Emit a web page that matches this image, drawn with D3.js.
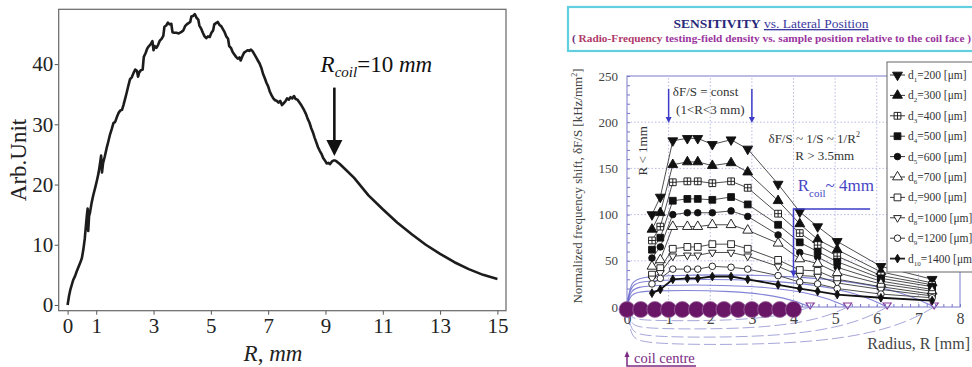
<!DOCTYPE html>
<html>
<head>
<meta charset="utf-8">
<script src="https://cdn.jsdelivr.net/npm/d3@7"></script>
<style>
  body { margin: 0; background: #fff; }
  svg, svg text, svg tspan { font-family: "Liberation Serif", "Times New Roman", serif !important; }
</style>
</head>
<body>
<svg id="chart" width="972" height="367"></svg>
<script>
// ---------- left panel data ----------
const leftR = [0, 0.05, 0.1, 0.15, 0.2, 0.26, 0.32, 0.38, 0.44, 0.5, 0.55, 0.6, 0.64, 0.68, 0.7, 0.72, 0.75, 0.78,
  0.84, 0.9, 0.96, 1.02, 1.08, 1.13, 1.17, 1.2, 1.24, 1.3, 1.36, 1.42, 1.48, 1.54, 1.6, 1.66, 1.72, 1.78, 1.84, 1.9,
  1.95, 2.0, 2.06, 2.12, 2.18, 2.24, 2.3, 2.36, 2.42, 2.46, 2.5, 2.56, 2.62, 2.66, 2.72, 2.78, 2.84, 2.9, 2.96, 3.0,
  3.04, 3.1, 3.16, 3.22, 3.28, 3.34, 3.38, 3.44, 3.5, 3.56, 3.62, 3.66, 3.72, 3.8, 3.88, 3.96, 4.04, 4.1, 4.16, 4.22,
  4.28, 4.32, 4.38, 4.44, 4.5, 4.56, 4.6, 4.66, 4.72, 4.78, 4.84, 4.9, 4.96, 5.02, 5.08, 5.12, 5.18, 5.24, 5.3, 5.36,
  5.42, 5.48, 5.54, 5.6, 5.64, 5.7, 5.76, 5.82, 5.88, 5.94, 6.0, 6.04, 6.1, 6.16, 6.22, 6.28, 6.34, 6.4, 6.46, 6.52,
  6.58, 6.64, 6.7, 6.76, 6.82, 6.88, 6.94, 7.0, 7.06, 7.12, 7.18, 7.24, 7.3, 7.36, 7.42, 7.48, 7.54, 7.6, 7.66, 7.72,
  7.78, 7.84, 7.9, 7.96, 8.02, 8.08, 8.14, 8.2, 8.26, 8.32, 8.38, 8.44, 8.5, 8.56, 8.62, 8.68, 8.74, 8.8, 8.86, 8.92,
  8.98, 9.04, 9.1, 9.16, 9.22, 9.28, 9.34, 9.4, 9.5, 9.7, 10.0, 10.5, 11.0, 11.5, 12.0, 12.5, 13.0, 13.5, 14.0, 14.5, 15.0];
const leftArb = [0, 1.5, 2.6, 3.4, 4.2, 4.8, 5.6, 6.3, 7.0, 7.8, 9.2, 11.0, 13.2, 15.2, 16.0, 12.3, 14.8, 15.3,
  17.0, 18.3, 19.4, 20.6, 21.9, 23.4, 24.8, 22.0, 23.6, 24.7, 26.0, 27.1, 28.3, 29.2, 30.2, 30.4, 31.2, 31.9, 32.3, 32.4,
  33.2, 34.1, 35.2, 36.4, 37.5, 37.8, 38.5, 39.1, 38.9, 37.9, 38.6, 39.0, 39.1, 41.2, 41.8, 42.6, 43.0, 43.3, 43.8, 42.3,
  43.0, 42.7, 43.2, 43.9, 44.2, 44.7, 46.2, 46.4, 46.9, 46.6, 46.7, 45.3, 45.2, 45.2, 45.1, 45.3, 45.6, 46.3, 46.6, 46.8,
  47.0, 47.9, 48.0, 48.3, 47.7, 47.4, 46.4, 45.9, 45.2, 44.6, 44.3, 44.6, 44.5, 45.2, 45.6, 46.6, 46.8, 47.0, 46.5, 46.3,
  45.8, 45.3, 44.6, 44.2, 43.0, 42.7, 42.0, 41.6, 41.2, 40.9, 41.1, 40.6, 41.3, 41.9, 42.1, 42.3, 42.2, 42.4, 42.1, 41.6,
  41.1, 40.6, 40.1, 39.4, 38.4, 37.7, 36.9, 36.3, 35.4, 34.8, 34.3, 34.0, 33.9, 33.6, 33.9, 33.2, 33.5, 33.8, 34.3, 34.1,
  34.5, 34.3, 34.7, 34.2, 34.1, 33.7, 33.3, 32.8, 32.3, 31.7, 30.9, 30.3, 29.4, 28.7, 27.8, 27.0, 26.2, 25.6, 25.1, 24.4,
  24.0, 23.5, 23.6, 23.4, 23.8, 24.0, 24.0, 23.8, 23.4, 22.5, 21.1, 18.2, 15.9, 13.7, 11.8, 10.0, 8.5, 7.1, 5.95, 5.0, 4.3];
const leftXTicks = [0, 1, 3, 5, 7, 9, 11, 13, 15];
const leftYTicks = [0, 10, 20, 30, 40];
const coilArrow = { r: 9.31, from: 36.1, to: 24.75 };
const coilNote = { r: 8.83, y: 38.75 };

// ---------- right panel data ----------
const radius = [0.6, 0.8, 1.1, 1.45, 1.7, 2.05, 2.5, 2.9, 3.63, 4.15, 4.58, 5.05, 6.1, 7.33];
const d1 = [100, 119, 180, 182.5, 182.5, 176, 181, 171, 133, 103, 87, 71, 44, 30];
const d2 = [84, 102, 154, 157, 157, 153, 156, 146, 115, 90, 73, 62, 38, 26];
const d3v = [72, 87, 135, 136, 136, 134, 136, 129, 101, 80, 67, 55, 34, 24];
const d4 = [62, 75, 115, 117, 117, 116, 119, 111, 89, 70, 60, 49, 31, 22];
const d5 = [53, 65, 100, 102, 102, 102, 104, 98, 78, 59, 54, 43, 28, 19];
const d6 = [44, 51, 87, 87, 87, 89, 89, 83, 69, 52, 47, 37, 25, 17];
const d7 = [35, 42, 63, 65, 65, 68, 68, 63, 51, 40, 39, 30, 22, 14];
const d8 = [31, 37, 55, 56, 56, 59, 59, 55, 44, 34, 33, 26, 19, 12];
const d9 = [25, 31, 41, 41, 41, 44, 43, 41, 34, 27, 25, 20, 14, 10];
const d10 = [15, 19, 30, 31, 31, 33, 33, 30, 24, 20, 17, 13.5, 10, 7];
const seriesValues = [d1, d2, d3v, d4, d5, d6, d7, d8, d9, d10];
const seriesLabels = ["200", "300", "400", "500", "600", "700", "900", "1000", "1200", "1400"];
const rightXTicks = [0, 1, 2, 3, 4, 5, 6, 7, 8];
const rightYTicks = [0, 50, 100, 150, 200, 250];
const coilTurns = [0, 0.33, 0.67, 1, 1.33, 1.67, 2, 2.33, 2.67, 3, 3.33, 3.67, 4];
const fieldReach = [4.4, 5.3, 6.25, 7.38];
const fieldTop = [18, 24, 30, 35];
const fieldBottom = [-15, -24, -33, -41];

// marker looks, one per series
const markers = [
  { shape: "tri", rot: 180, fill: "#111" },
  { shape: "tri", rot: 0, fill: "#111" },
  { shape: "sqx", rot: 0, fill: "#fff" },
  { shape: "sq", rot: 0, fill: "#111" },
  { shape: "circ", rot: 0, fill: "#111" },
  { shape: "tri", rot: 0, fill: "#fff" },
  { shape: "sq", rot: 0, fill: "#fff" },
  { shape: "tris", rot: 180, fill: "#fff" },
  { shape: "circ", rot: 0, fill: "#fff" },
  { shape: "dia", rot: 0, fill: "#111" }
];

const svg = d3.select("#chart");
const serif = '"Liberation Serif", "Times New Roman", serif';

// ================= LEFT PANEL =================
const xL = d3.scaleLinear().domain([-0.31, 15.3]).range([58.7, 506]);
const yL = d3.scaleLinear().domain([-0.95, 49.1]).range([310.7, 9.3]);
const gL = svg.append("g");

gL.append("g")
  .attr("transform", `translate(0,${yL.range()[0]})`)
  .call(d3.axisBottom(xL).tickValues(leftXTicks).tickSize(4).tickPadding(3))
  .attr("font-family", serif)
  .call(g => g.select(".domain").remove())
  .call(g => g.selectAll("line").attr("stroke", "#555"))
  .call(g => g.selectAll("text").attr("font-size", 21).attr("fill", "#222"));

gL.append("g")
  .attr("transform", `translate(${xL.range()[0]},0)`)
  .call(d3.axisLeft(yL).tickValues(leftYTicks).tickSize(4).tickPadding(1.5))
  .attr("font-family", serif)
  .call(g => g.select(".domain").remove())
  .call(g => g.selectAll("line").attr("stroke", "#555"))
  .call(g => g.selectAll("text").attr("font-size", 21).attr("fill", "#222"));

gL.append("rect")
  .attr("x", xL.range()[0]).attr("y", yL.range()[1])
  .attr("width", xL.range()[1] - xL.range()[0])
  .attr("height", yL.range()[0] - yL.range()[1])
  .attr("fill", "none").attr("stroke", "#666").attr("stroke-width", 1.2);

gL.append("path")
  .datum(d3.zip(leftR, leftArb))
  .attr("fill", "none")
  .attr("stroke", "#1c1c1c")
  .attr("stroke-width", 2.6)
  .attr("stroke-linejoin", "round")
  .attr("d", d3.line().x(d => xL(d[0])).y(d => yL(d[1])));

gL.append("text")
  .attr("transform", `translate(26,${(yL.range()[0] + yL.range()[1]) / 2}) rotate(-90)`)
  .attr("text-anchor", "middle")
  .attr("font-size", 23).attr("fill", "#222")
  .text("Arb.Unit");

const xlab = gL.append("text")
  .attr("x", 273).attr("y", 361)
  .attr("text-anchor", "middle").attr("font-size", 23).attr("fill", "#222");
xlab.append("tspan").attr("font-style", "italic").text("R");
xlab.append("tspan").text(", ");
xlab.append("tspan").attr("font-style", "italic").text("mm");

const note = gL.append("text")
  .attr("x", xL(coilNote.r)).attr("y", yL(coilNote.y))
  .attr("font-size", 23).attr("fill", "#111");
note.append("tspan").attr("font-style", "italic").text("R");
note.append("tspan").attr("font-style", "italic").attr("font-size", 15).attr("dy", 5).text("coil");
note.append("tspan").attr("dy", -5).text("=10 ");
note.append("tspan").attr("font-style", "italic").text("mm");

const ax = xL(coilArrow.r), tipY = yL(coilArrow.to);
gL.append("line")
  .attr("x1", ax).attr("x2", ax)
  .attr("y1", yL(coilArrow.from)).attr("y2", tipY - 14)
  .attr("stroke", "#111").attr("stroke-width", 2.6);
gL.append("path")
  .attr("d", `M${ax - 8},${tipY - 16}L${ax + 8},${tipY - 16}L${ax},${tipY}Z`)
  .attr("fill", "#111");

// ================= RIGHT PANEL =================
const xR = d3.scaleLinear().domain([0, 8]).range([627, 960]);
const yR = d3.scaleLinear().domain([0, 250]).range([307, 76]);
const gR = svg.append("g");
const frameCol = "#7878c8";

// dotted grid
gR.append("g").selectAll("line").data(rightXTicks.slice(1, -1)).join("line")
  .attr("x1", d => xR(d)).attr("x2", d => xR(d))
  .attr("y1", yR(0)).attr("y2", yR(250))
  .attr("stroke", "#a8a8dc").attr("stroke-width", 0.8).attr("stroke-dasharray", "1.5,2");
gR.append("g").selectAll("line").data(rightYTicks.slice(1, -1)).join("line")
  .attr("x1", xR(0)).attr("x2", xR(8))
  .attr("y1", d => yR(d)).attr("y2", d => yR(d))
  .attr("stroke", "#a8a8dc").attr("stroke-width", 0.8).attr("stroke-dasharray", "1.5,2");

// magnetic field loops around the coil
const loopLine = d3.line().x(d => xR(d[0])).y(d => yR(d[1])).curve(d3.curveBasis);
fieldReach.forEach((r, i) => {
  const t = fieldTop[i], b = fieldBottom[i];
  const upper = [[0, 0], [0.08, t * 0.8], [0.4, t], [r * 0.6, t], [r * 0.88, t * 0.55], [r, 0]];
  const lower = [[r, 0], [r * 0.88, b * 0.55], [r * 0.6, b], [0.4, b], [0.08, b * 0.8], [0, 0]];
  gR.append("path").attr("d", loopLine(upper))
    .attr("fill", "none").attr("stroke", "#5a5ac8").attr("stroke-width", 1.1).attr("opacity", 0.75);
  gR.append("path").attr("d", loopLine(lower))
    .attr("fill", "none").attr("stroke", "#6a6ac0").attr("stroke-width", 1)
    .attr("stroke-dasharray", "12,4").attr("opacity", 0.6);
  gR.append("path")
    .attr("transform", `translate(${xR(r)},${yR(0) - 1})`)
    .attr("d", "M-4,-3L4,-3L0,3Z")
    .attr("fill", "#fff").attr("stroke", "#8a3a9a").attr("stroke-width", 1.2);
});

// frame + minor ticks
gR.append("rect")
  .attr("x", xR(0)).attr("y", yR(250))
  .attr("width", xR(8) - xR(0)).attr("height", yR(0) - yR(250))
  .attr("fill", "none").attr("stroke", frameCol).attr("stroke-width", 1);
gR.append("g").attr("transform", `translate(0,${yR(0)})`)
  .call(d3.axisBottom(xR).ticks(32).tickSize(-3).tickFormat(""))
  .call(g => g.select(".domain").remove())
  .call(g => g.selectAll("line").attr("stroke", frameCol));
gR.append("g").attr("transform", `translate(${xR(0)},0)`)
  .call(d3.axisLeft(yR).ticks(25).tickSize(-3).tickFormat(""))
  .call(g => g.select(".domain").remove())
  .call(g => g.selectAll("line").attr("stroke", frameCol));

// tick labels
gR.append("g").attr("transform", `translate(0,${yR(0)})`)
  .call(d3.axisBottom(xR).tickValues(rightXTicks).tickSize(0).tickPadding(6))
  .attr("font-family", serif)
  .call(g => g.select(".domain").remove())
  .call(g => g.selectAll("text").attr("font-size", 16).attr("fill", "#444"));
gR.append("g").attr("transform", `translate(${xR(0)},0)`)
  .call(d3.axisLeft(yR).tickValues(rightYTicks).tickSize(0).tickPadding(9))
  .attr("font-family", serif)
  .call(g => g.select(".domain").remove())
  .call(g => g.selectAll("text").attr("font-size", 13).attr("fill", "#444"));

// marker drawing
function markerPath(m) {
  if (m.shape === "tri") return d3.symbol(d3.symbolTriangle, 42)();
  if (m.shape === "tris") return d3.symbol(d3.symbolTriangle, 26)();
  if (m.shape === "circ") return d3.symbol(d3.symbolCircle, 34)();
  if (m.shape === "dia") return d3.symbol(d3.symbolDiamond, 22)();
  if (m.shape === "sq") return d3.symbol(d3.symbolSquare, 46)();
  return "M-3.4,-3.4H3.4V3.4H-3.4Z M0,-3.4V3.4 M-3.4,0H3.4";
}
function drawMarker(g, m, x, y) {
  g.append("path")
    .attr("transform", `translate(${x},${y}) rotate(${m.rot})`)
    .attr("d", markerPath(m))
    .attr("fill", m.fill).attr("stroke", "#111").attr("stroke-width", 0.9);
}

const seriesLine = d3.line().x(d => xR(d[0])).y(d => yR(d[1]));
seriesValues.forEach((vals, i) => {
  const pts = d3.zip(radius, vals);
  gR.append("path").datum(pts)
    .attr("fill", "none").attr("stroke", i === 9 ? "#111" : "#3a3a3a")
    .attr("stroke-width", i === 9 ? 1.8 : 0.9)
    .attr("d", seriesLine);
});
seriesValues.forEach((vals, i) => {
  const g = gR.append("g");
  radius.forEach((r, j) => drawMarker(g, markers[i], xR(r), yR(vals[j])));
});

// coil turns
gR.append("g").selectAll("circle").data(coilTurns).join("circle")
  .attr("cx", d => xR(d)).attr("cy", yR(0) + 2.5).attr("r", 8)
  .attr("fill", "#6a1666").attr("stroke", "#9c6aa0").attr("stroke-width", 0.8);

// annotations
const ann = gR.append("g").attr("font-size", 13).attr("fill", "#333");
ann.append("text").attr("x", xR(1.1)).attr("y", yR(228)).text("δF/S = const");
ann.append("text").attr("x", xR(1.18)).attr("y", yR(209)).text("(1<R<3 mm)");
ann.append("text")
  .attr("transform", `translate(${xR(0.48)},${yR(169)}) rotate(-90)`)
  .attr("text-anchor", "middle").text("R < 1mm");
const inv = ann.append("text").attr("x", xR(3.4)).attr("y", yR(178));
inv.append("tspan").text("δF/S ~ 1/S ~ 1/R");
inv.append("tspan").attr("font-size", 8).attr("dy", -6).text("2");
ann.append("text").attr("x", xR(4.75)).attr("y", yR(159)).attr("text-anchor", "middle").text("R > 3.5mm");

const blue = "#3c3cc8";
[1, 3].forEach(r => {
  gR.append("line").attr("x1", xR(r)).attr("x2", xR(r)).attr("y1", yR(236)).attr("y2", yR(203))
    .attr("stroke", blue).attr("stroke-width", 1.5);
  gR.append("path").attr("transform", `translate(${xR(r)},${yR(199)})`)
    .attr("d", "M-3,-6L3,-6L0,0Z").attr("fill", blue);
});

const rc = gR.append("text").attr("x", xR(4.1)).attr("y", yR(126)).attr("font-size", 17).attr("fill", "#4646c4");
rc.append("tspan").text("R");
rc.append("tspan").attr("font-size", 11).attr("dy", 6).text("coil");
rc.append("tspan").attr("dy", -6).text("~ 4mm");

gR.append("path")
  .attr("d", `M${xR(5.84)},${yR(106)}H${xR(4)}V${yR(37)}`)
  .attr("fill", "none").attr("stroke", blue).attr("stroke-width", 1.5);
gR.append("path").attr("transform", `translate(${xR(4)},${yR(32)})`)
  .attr("d", "M-3,-7L3,-7L0,0Z").attr("fill", blue);

// axis titles
const yt = gR.append("text")
  .attr("transform", `translate(582,186) rotate(-90)`)
  .attr("text-anchor", "middle").attr("font-size", 13).attr("fill", "#444");
yt.append("tspan").text("Normalized frequency shift, δF/S [kHz/mm");
yt.append("tspan").attr("font-size", 8).attr("dy", -5).text("2");
yt.append("tspan").attr("dy", 5).text("]");

gR.append("text").attr("x", 970).attr("y", 349).attr("text-anchor", "end")
  .attr("font-size", 16).attr("fill", "#444").text("Radius, R [mm]");

// coil centre pointer
const purple = "#7a2a82";
gR.append("text").attr("x", 634).attr("y", 363).attr("font-size", 14.5).attr("fill", purple).text("coil centre");
gR.append("path").attr("d", `M${xR(0)},356V366H696`).attr("fill", "none").attr("stroke", purple).attr("stroke-width", 1.5);
gR.append("path").attr("transform", `translate(${xR(0)},351)`).attr("d", "M-2.5,6L2.5,6L0,0Z").attr("fill", purple);

// legend
const lg = gR.append("g");
lg.append("rect").attr("x", 887).attr("y", 62).attr("width", 95).attr("height", 210)
  .attr("fill", "#fff").attr("stroke", "#666").attr("stroke-width", 1);
seriesLabels.forEach((lab, i) => {
  const y = 75 + i * 20.4;
  lg.append("line").attr("x1", 890).attr("x2", 905).attr("y1", y).attr("y2", y)
    .attr("stroke", "#222").attr("stroke-width", i === 9 ? 1.8 : 0.9);
  drawMarker(lg, markers[i], 897.5, y);
  const t = lg.append("text").attr("x", 908).attr("y", y + 4).attr("font-size", 11.5).attr("fill", "#333");
  t.append("tspan").text("d");
  t.append("tspan").attr("font-size", 7).attr("dy", 3).text(String(i + 1));
  t.append("tspan").attr("dy", -3).text("=" + lab + " [μm]");
});

// title box
const tb = svg.append("g");
tb.append("rect").attr("x", 568).attr("y", 7).attr("width", 420).attr("height", 44)
  .attr("fill", "#fff").attr("stroke", "#62cfe0").attr("stroke-width", 2.2);
const t1 = tb.append("text").attr("x", 771).attr("y", 28).attr("text-anchor", "middle").attr("font-size", 13.5);
t1.append("tspan").attr("font-weight", "bold").attr("fill", "#28287a").text("SENSITIVITY");
t1.append("tspan").attr("fill", "#3a3aa0").text("  ");
t1.append("tspan").attr("fill", "#3a3aa0").attr("text-decoration", "underline").text("vs. Lateral Position");
const t2 = tb.append("text").attr("x", 572).attr("y", 42).attr("font-size", 11).attr("font-weight", "bold")
  .attr("textLength", 399).attr("lengthAdjust", "spacingAndGlyphs");
t2.append("tspan").attr("fill", "#6a2a7a").text("( ");
t2.append("tspan").attr("fill", "#b03a6a").text("Radio-Frequency ");
t2.append("tspan").attr("fill", "#9a349e").text("testing-field density vs. sample position relative to the coil face )");
</script>
</body>
</html>
